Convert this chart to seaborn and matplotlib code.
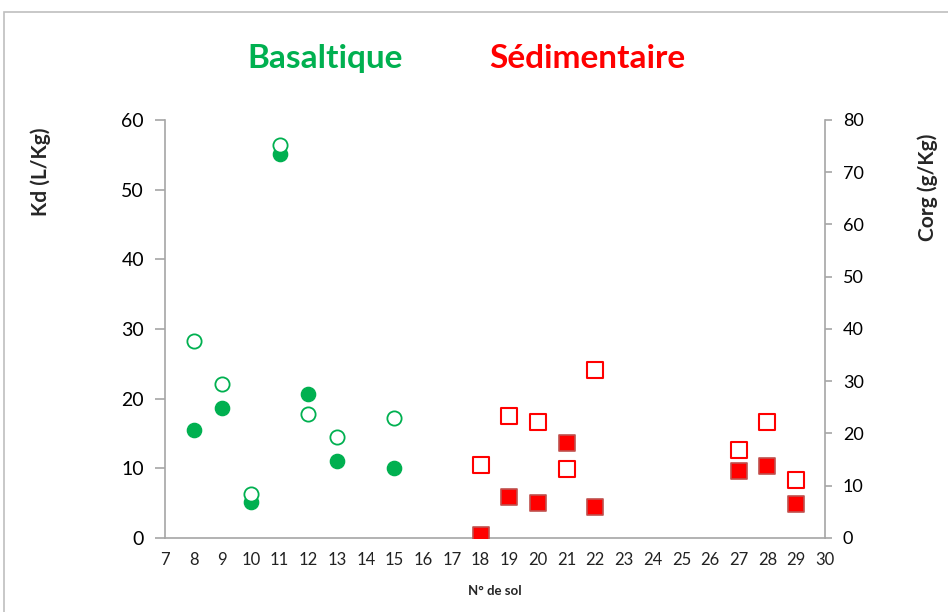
import matplotlib
matplotlib.use("Agg")
import matplotlib.pyplot as plt
import seaborn as sns
import pandas as pd
from matplotlib.patches import Rectangle

# ---- data ----
bas_sol = [8, 9, 10, 11, 12, 13, 15]
bas_kd = [15.5, 18.7, 5.2, 55.1, 20.7, 11.1, 10.0]
bas_corg = [37.7, 29.5, 8.4, 75.2, 23.7, 19.3, 23.0]

sed_sol = [18, 19, 20, 21, 22, 27, 28, 29]
sed_kd = [0.4, 5.9, 5.0, 13.6, 4.4, 9.6, 10.3, 4.9]
sed_corg = [14.0, 23.3, 22.2, 13.2, 32.2, 16.8, 22.2, 11.1]

x_ticks = list(range(7, 31))
left_ticks = [0, 10, 20, 30, 40, 50, 60]
right_ticks = [0, 10, 20, 30, 40, 50, 60, 70, 80]

bas = pd.DataFrame({"sol": bas_sol, "kd": bas_kd, "corg": bas_corg})
sed = pd.DataFrame({"sol": sed_sol, "kd": sed_kd, "corg": sed_corg})

sns.set_style("white")
plt.rcParams["font.family"] = ["Lato", "DejaVu Sans"]

GREEN = "#00B050"
RED = "#FF0000"
GRAY = "#A6A6A6"

fig = plt.figure(figsize=(9.48, 6.12), dpi=100)
ax = fig.add_axes([0.174, 0.121, 0.696, 0.683])
ax2 = ax.twinx()

sns.scatterplot(data=bas, x="sol", y="kd", ax=ax, marker="o", s=105,
                color=GREEN, edgecolor=GREEN, linewidth=1, zorder=3, legend=False)
sns.scatterplot(data=sed, x="sol", y="kd", ax=ax, marker="s", s=125,
                color=RED, edgecolor="#C0504D", linewidth=1.2, zorder=3, legend=False)
sns.scatterplot(data=bas, x="sol", y="corg", ax=ax2, marker="o", s=105,
                facecolor="white", edgecolor=GREEN, linewidth=1.3, zorder=3, legend=False)
sns.scatterplot(data=sed, x="sol", y="corg", ax=ax2, marker="s", s=125,
                facecolor="white", edgecolor=RED, linewidth=1.5, zorder=3, legend=False)

ax.set_xlim(7, 30)
ax.set_ylim(0, 60)
ax2.set_ylim(0, 80)
ax.set_xticks(x_ticks)
ax.set_yticks(left_ticks)
ax2.set_yticks(right_ticks)

for a in (ax, ax2):
    for s in a.spines.values():
        s.set_color(GRAY)
        s.set_linewidth(1.2)
    a.spines["top"].set_visible(False)
ax.spines["right"].set_visible(False)
ax2.spines["left"].set_visible(False)
ax2.spines["bottom"].set_visible(False)

ax.tick_params(axis="y", direction="out", length=7, width=1.2, color=GRAY,
               labelsize=14, pad=8, left=True, labelcolor="black")
ax.tick_params(axis="x", length=0, labelsize=12, pad=10, labelcolor="#222222")
ax2.tick_params(axis="y", direction="out", length=5, width=1.2, color=GRAY,
                labelsize=13, pad=8, right=True, labelcolor="black")

ax.set_xlabel("N° de sol", fontsize=9.5, fontweight="bold", labelpad=12)
ax.set_ylabel("Kd (L/Kg)", fontsize=15, fontweight="bold", va="center", ha="center")
ax.yaxis.set_label_coords(-0.189, 0.876)
ax2.set_ylabel("Corg (g/Kg)", fontsize=15, fontweight="bold", va="center", ha="center",
               rotation=90)
ax2.yaxis.set_label_coords(1.156, 0.84)
ax.grid(False)
ax2.grid(False)

fig.text(0.343, 0.905, "Basaltique", color=GREEN, fontsize=24, fontweight="bold",
         ha="center", va="center")
fig.text(0.620, 0.905, "Sédimentaire", color=RED, fontsize=24, fontweight="bold",
         ha="center", va="center")

fig.patches.append(Rectangle((0.004, -0.01), 1.1, 0.99, transform=fig.transFigure,
                             fill=False, edgecolor="#BFBFBF", linewidth=1.2))

fig.savefig("out.png", dpi=100)
